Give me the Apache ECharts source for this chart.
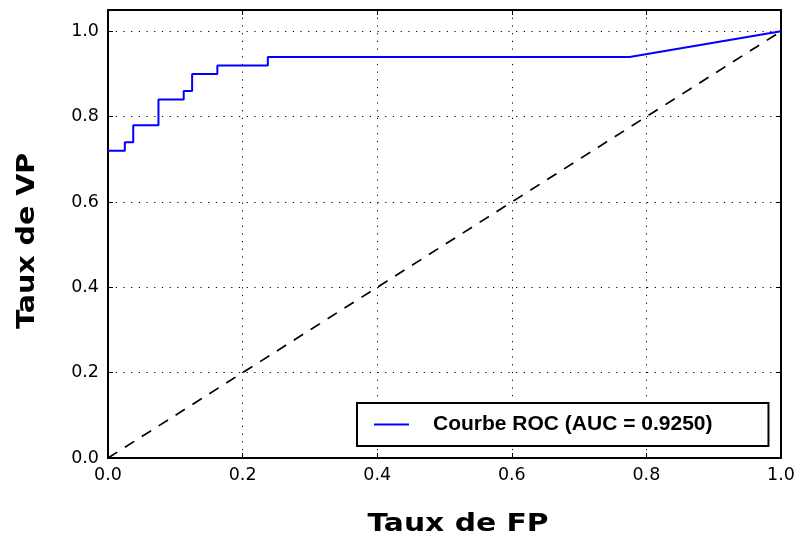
<!DOCTYPE html>
<html>
<head>
<meta charset="utf-8">
<script src="https://cdn.jsdelivr.net/npm/echarts@6/dist/echarts.min.js"></script>
<style>html,body{margin:0;padding:0;background:#fff}#c{width:800px;height:538px}</style>
</head>
<body>
<div id="c"></div>
<script>
// ROC curve points (false positive rate, true positive rate)
const fpr = [0, 0.025, 0.025, 0.0375, 0.0375, 0.075, 0.075, 0.1125, 0.1125, 0.125, 0.125, 0.1625, 0.1625, 0.2375, 0.2375, 0.775, 1.0];
const tpr = [0.72, 0.72, 0.74, 0.74, 0.78, 0.78, 0.84, 0.84, 0.86, 0.86, 0.90, 0.90, 0.92, 0.92, 0.94, 0.94, 1.0];
const diagX = [0, 1];
const diagY = [0, 1];
const tickLabels = ['0.0', '0.2', '0.4', '0.6', '0.8', '1.0'];
const rocName = 'Courbe ROC (AUC = 0.9250)';
const xTitle = 'Taux de FP';
const yTitle = 'Taux de VP';

const chart = echarts.init(document.getElementById('c'), null, {renderer: 'canvas'});
const fmt = v => {
  const i = Math.round(v / 0.2);
  return Math.abs(v - i * 0.2) < 1e-6 ? tickLabels[i] : '';
};
const splitLine = {show: true, lineStyle: {color: '#000', width: 1, type: [1.2, 6.5]}};
const axisLine = {show: true, onZero: false, lineStyle: {color: '#000', width: 2}};
const axisTick = {show: true, inside: true, length: 5, lineStyle: {color: '#000', width: 1}};
const labelStyle = {color: '#000', fontFamily: 'DejaVu Sans', fontSize: 17.5};
const titleFont = 'bold 25px "DejaVu Sans"';

chart.setOption({
  animation: false,
  backgroundColor: '#fff',
  grid: {left: 108, right: 19, top: 10, bottom: 80, containLabel: false},
  xAxis: [
    {type: 'value', min: 0, max: 1, interval: 0.2, position: 'bottom',
     axisLine, axisTick, splitLine,
     axisLabel: Object.assign({margin: 8, formatter: fmt}, labelStyle)},
    {type: 'value', min: 0, max: 1, interval: 0.2, position: 'top',
     axisLine, axisTick, splitLine: {show: false}, axisLabel: {show: false}}
  ],
  yAxis: [
    {type: 'value', min: 0, max: 1.05, interval: 0.2, position: 'left',
     axisLine, axisTick, splitLine,
     axisLabel: Object.assign({margin: 9, formatter: fmt, showMaxLabel: false}, labelStyle)},
    {type: 'value', min: 0, max: 1.05, interval: 0.2, position: 'right',
     axisLine, axisTick, splitLine: {show: false}, axisLabel: {show: false}}
  ],
  graphic: [
    {type: 'text', x: 458, y: 524, scaleX: 1.19,
     style: {text: xTitle, font: titleFont, fill: '#000', textAlign: 'center', textVerticalAlign: 'middle'}},
    {type: 'text', x: 27, y: 241, rotation: Math.PI / 2, scaleX: 1.14,
     style: {text: yTitle, font: titleFont, fill: '#000', textAlign: 'center', textVerticalAlign: 'middle'}}
  ],
  legend: {
    show: true,
    left: 357, top: 403,
    orient: 'horizontal',
    data: [{name: rocName, icon: 'rect'}],
    itemWidth: 35, itemHeight: 2,
    padding: [11, 56, 11, 17],
    borderColor: '#000', borderWidth: 2, backgroundColor: '#fff',
    borderRadius: 0,
    textStyle: {color: '#000', fontFamily: 'Liberation Sans', fontWeight: 'bold', fontSize: 21, padding: [0, 0, 0, 19]}
  },
  series: [
    {name: rocName, type: 'line', xAxisIndex: 0, yAxisIndex: 0,
     data: fpr.map((x, i) => [x, tpr[i]]),
     showSymbol: false, symbol: 'none', color: '#0000ff',
     lineStyle: {color: '#0000ff', width: 2}, z: 3},
    {name: 'diag', type: 'line', xAxisIndex: 0, yAxisIndex: 0,
     data: diagX.map((x, i) => [x, diagY[i]]),
     showSymbol: false, symbol: 'none', color: '#000',
     lineStyle: {color: '#000', width: 1.7, type: [11, 9]}, z: 2}
  ]
});
</script>
</body>
</html>
